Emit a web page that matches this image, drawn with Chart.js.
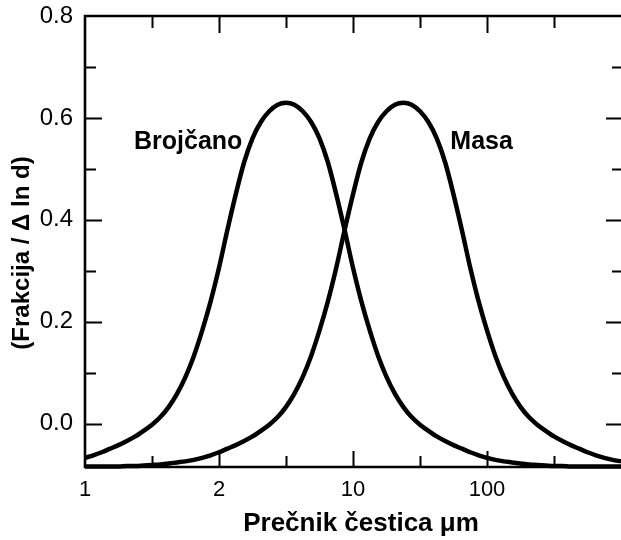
<!DOCTYPE html>
<html>
<head>
<meta charset="utf-8">
<script src="https://cdn.jsdelivr.net/npm/chart.js@4.4.1/dist/chart.umd.min.js"></script>
<style>
  html, body { margin: 0; padding: 0; background: #fff; }
  canvas { display: block; }
</style>
</head>
<body>
<canvas id="c" width="621" height="540"></canvas>
<script>
// ---- data ----
const xPositions = [0, 0.0625, 0.125, 0.1875, 0.25, 0.3125, 0.375, 0.4375, 0.5, 0.5625, 0.625, 0.6875, 0.75, 0.8125, 0.875, 0.9375,
  1, 1.0625, 1.125, 1.1875, 1.25, 1.3125, 1.375, 1.4375, 1.5, 1.5625, 1.625, 1.6875, 1.75, 1.8125, 1.875, 1.9375,
  2, 2.0625, 2.125, 2.1875, 2.25, 2.3125, 2.375, 2.4375, 2.5, 2.5625, 2.625, 2.6875, 2.75, 2.8125, 2.875, 2.9375,
  3, 3.0625, 3.125, 3.1875, 3.25, 3.3125, 3.375, 3.4375, 3.5, 3.5625, 3.625, 3.6875, 3.75, 3.8125, 3.875, 3.9375, 4];
const brojcano = [-0.067, -0.062, -0.056, -0.049, -0.042, -0.034, -0.025, -0.014, -0.002, 0.013, 0.033, 0.059, 0.092, 0.133, 0.183, 0.240,
  0.306, 0.380, 0.450, 0.513, 0.560, 0.592, 0.613, 0.626, 0.630, 0.626, 0.613, 0.592, 0.560, 0.513, 0.450, 0.380,
  0.306, 0.240, 0.183, 0.133, 0.092, 0.059, 0.033, 0.013, -0.002, -0.014, -0.025, -0.034, -0.042, -0.049, -0.056, -0.062,
  -0.067, -0.071, -0.074, -0.076, -0.078, -0.080, -0.081, -0.082, -0.083, -0.083, -0.084, -0.084, -0.084, -0.084, -0.084, -0.084, -0.084];
const masa = [-0.084, -0.084, -0.084, -0.084, -0.084, -0.083, -0.083, -0.082, -0.081, -0.080, -0.078, -0.076, -0.074, -0.071, -0.067, -0.062,
  -0.056, -0.049, -0.042, -0.034, -0.025, -0.014, -0.002, 0.013, 0.033, 0.059, 0.092, 0.133, 0.183, 0.240, 0.306, 0.380,
  0.450, 0.513, 0.560, 0.592, 0.613, 0.626, 0.630, 0.626, 0.613, 0.592, 0.560, 0.513, 0.450, 0.380, 0.306, 0.240,
  0.183, 0.133, 0.092, 0.059, 0.033, 0.013, -0.002, -0.014, -0.025, -0.034, -0.042, -0.049, -0.056, -0.062, -0.067, -0.071, -0.074];
const xTickValues = [0, 1, 2, 3];
const xTickLabels = ['1', '2', '10', '100'];
const xMinorTicks = [0.5, 1.5, 2.5, 3.5];
const yTickValues = [0, 0.2, 0.4, 0.6, 0.8];
const yMinorTicks = [0.1, 0.3, 0.5, 0.7];
const seriesNames = ['Brojčano', 'Masa'];
const xTitle = 'Prečnik čestica μm';
const yTitle = '(Frakcija / Δ ln d)';

// ---- layout / style ----
const FONT = "'Liberation Sans', Arial, Helvetica, sans-serif";
const labelPos = [{ x: 0.77, y: 0.552 }, { x: 2.96, y: 0.552 }];

const framePlugin = {
  id: 'frame',
  afterDraw(chart) {
    const { ctx, chartArea: a, scales } = chart;
    const xs = scales.x, ys = scales.y;
    ctx.save();
    ctx.strokeStyle = '#000';
    ctx.lineCap = 'butt';
    ctx.lineWidth = 2;
    ctx.beginPath();
    const vTick = (v, len) => {
      const px = Math.round(xs.getPixelForValue(v)) + 0.5;
      ctx.moveTo(px, a.top); ctx.lineTo(px, a.top + len + 1);
      ctx.moveTo(px, a.bottom); ctx.lineTo(px, a.bottom - len);
    };
    xTickValues.forEach(v => { if (v > 0) vTick(v, 16); });
    xMinorTicks.forEach(v => vTick(v, 11));
    const hTick = (v, len, rlen) => {
      const py = Math.round(ys.getPixelForValue(v)) + 0.5;
      ctx.moveTo(a.left, py); ctx.lineTo(a.left + len, py);
      ctx.moveTo(a.right, py); ctx.lineTo(a.right - rlen, py);
    };
    yTickValues.forEach(v => { if (v < 0.8) hTick(v, 17, 15); });
    yMinorTicks.forEach(v => hTick(v, 11, 9));
    ctx.stroke();
    ctx.lineWidth = 2.6;
    ctx.beginPath();
    ctx.moveTo(a.right + 2, a.top);
    ctx.lineTo(a.left, a.top);
    ctx.lineTo(a.left, a.bottom);
    ctx.lineTo(a.right + 2, a.bottom);
    ctx.stroke();
    ctx.fillStyle = '#000';
    ctx.font = 'bold 25px ' + FONT;
    ctx.textAlign = 'center';
    ctx.textBaseline = 'middle';
    seriesNames.forEach((n, i) => {
      ctx.fillText(n, xs.getPixelForValue(labelPos[i].x), ys.getPixelForValue(labelPos[i].y));
    });
    ctx.font = 'bold 26px ' + FONT;
    ctx.fillText(xTitle, 361, 524);
    ctx.font = 'bold 24px ' + FONT;
    ctx.translate(22, 253);
    ctx.rotate(-Math.PI / 2);
    ctx.fillText(yTitle, 0, 0);
    ctx.restore();
  }
};

const mk = (vals) => xPositions.map((x, i) => ({ x: x, y: vals[i] }));

new Chart(document.getElementById('c'), {
  type: 'line',
  data: {
    datasets: [
      { label: seriesNames[0], data: mk(brojcano), borderColor: '#000', borderWidth: 4.5, pointRadius: 0, cubicInterpolationMode: 'monotone', fill: false, clip: false },
      { label: seriesNames[1], data: mk(masa), borderColor: '#000', borderWidth: 4.5, pointRadius: 0, cubicInterpolationMode: 'monotone', fill: false, clip: false }
    ]
  },
  options: {
    responsive: false,
    animation: false,
    layout: { padding: { top: 16, left: 0, right: 0, bottom: 0 } },
    plugins: { legend: { display: false }, tooltip: { enabled: false } },
    scales: {
      x: {
        type: 'linear', min: 0, max: 4,
        afterBuildTicks: s => { s.ticks = xTickValues.map(v => ({ value: v })); },
        afterFit: s => { s.height = 73; s.paddingLeft = 0; s.paddingRight = 0; },
        grid: { display: false, drawTicks: false },
        border: { display: false },
        ticks: {
          autoSkip: false, maxRotation: 0, padding: 10, color: '#000',
          font: { size: 22, family: FONT },
          callback: v => { const i = xTickValues.indexOf(v); return i >= 0 ? xTickLabels[i] : ''; }
        }
      },
      y: {
        type: 'linear', min: -0.085, max: 0.8,
        afterBuildTicks: s => { s.ticks = yTickValues.map(v => ({ value: v })); },
        afterFit: s => { s.width = 85; s.paddingTop = 0; s.paddingBottom = 0; },
        grid: { display: false, drawTicks: false },
        border: { display: false },
        ticks: {
          padding: 12, color: '#000',
          font: { size: 24, family: FONT },
          callback: v => Number(v).toFixed(1)
        }
      }
    }
  },
  plugins: [framePlugin]
});
</script>
</body>
</html>
